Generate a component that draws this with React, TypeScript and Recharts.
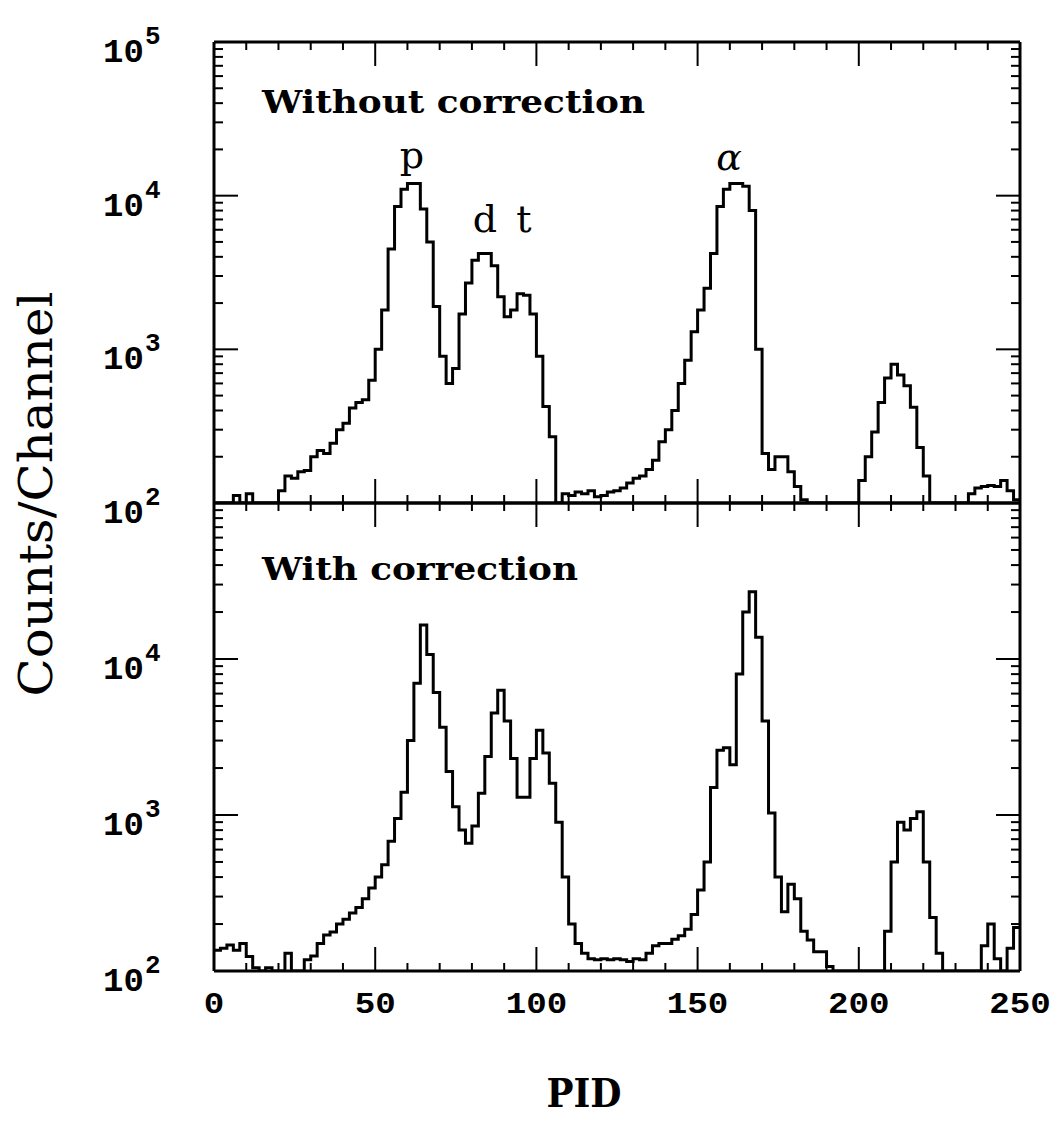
import React from 'react';
import { LineChart, Line, XAxis, YAxis } from 'recharts';

const W = 1058;
const H = 1124;
const BIN_WIDTH = 2;

const PID_TICKS = [0, 10, 20, 30, 40, 50, 60, 70, 80, 90, 100, 110, 120, 130, 140, 150, 160, 170, 180, 190, 200, 210, 220, 230, 240, 250];
const PID_LABELS = [0, 50, 100, 150, 200, 250];
const COUNT_TICKS = [
  100, 200, 300, 400, 500, 600, 700, 800, 900,
  1000, 2000, 3000, 4000, 5000, 6000, 7000, 8000, 9000,
  10000, 20000, 30000, 40000, 50000, 60000, 70000, 80000, 90000,
  100000,
];
const DECADES = [100, 1000, 10000, 100000];
const TOP_LABELS = [100, 1000, 10000, 100000];
const BOTTOM_LABELS = [100, 1000, 10000];

// counts per 2-channel bin, bins start at 0, 2, 4 ... 248
const WITHOUT_CORRECTION = [
  100, 100, 100, 112, 100, 115, 100, 100, 100, 100,
  120, 150, 145, 160, 163, 200, 220, 210, 245, 300,
  330, 415, 450, 470, 630, 1000, 1800, 4500, 8500, 11000,
  12000, 12000, 8200, 5000, 1900, 900, 600, 750, 1700, 2700,
  3800, 4200, 4200, 3500, 2200, 1630, 1800, 2300, 2250, 1700,
  900, 425, 270, 100, 115, 112, 118, 115, 120, 110,
  112, 118, 120, 125, 135, 145, 150, 165, 190, 250,
  300, 400, 600, 850, 1300, 1800, 2500, 4200, 8500, 11000,
  12000, 12000, 11500, 8000, 1000, 210, 165, 200, 200, 160,
  128, 105, 100, 100, 100, 100, 100, 100, 100, 100,
  140, 200, 290, 450, 650, 800, 680, 580, 420, 230,
  150, 100, 100, 100, 100, 100, 100, 115, 125, 128,
  130, 128, 140, 120, 105,
];

const WITH_CORRECTION = [
  136, 140, 147, 136, 150, 124, 105, 100, 105, 100,
  100, 130, 100, 100, 118, 125, 150, 170, 178, 200,
  215, 235, 255, 290, 340, 400, 480, 680, 950, 1400,
  3000, 7000, 16500, 10700, 6100, 3650, 1900, 1130, 800, 660,
  850, 1380, 2370, 4500, 6300, 4000, 2300, 1300, 1300, 2300,
  3500, 2500, 1600, 900, 400, 200, 150, 130, 120, 118,
  120, 118, 120, 118, 115, 120, 118, 130, 145, 150,
  150, 160, 168, 185, 230, 330, 500, 1500, 2600, 2700,
  2100, 8000, 20000, 27000, 13800, 4000, 1030, 400, 240, 360,
  290, 180, 158, 133, 133, 107, 100, 100, 100, 100,
  100, 100, 100, 100, 180, 500, 900, 800, 950, 1050,
  500, 220, 130, 100, 100, 100, 100, 100, 100, 145,
  200, 120, 100, 140, 190,
];

const toSteps = (counts: number[]) => {
  const rows = counts.map((c, i) => ({ pid: i * BIN_WIDTH, counts: c }));
  rows.push({ pid: counts.length * BIN_WIDTH, counts: counts[counts.length - 1] });
  return rows;
};

const INK = '#000';
const TICK_FONT = '"Liberation Mono", monospace';
const LABEL_FONT = '"DejaVu Serif", serif';

const isDecade = (v: number) => DECADES.includes(v);

const leftTick = (labelled: number[]) => (props: any) => {
  const { x, y, payload } = props;
  const v = payload.value;
  const major = isDecade(v);
  return (
    <g>
      <line x1={x} x2={x + (major ? 24 : 9)} y1={y} y2={y} stroke={INK} strokeWidth={2} />
      {major && labelled.includes(v) && (
        <text x={x - 111} y={y + 20} fontFamily={TICK_FONT} fontWeight="bold" fontSize={34} fill={INK}>
          10
          <tspan x={x - 69} y={y + 2} fontSize={26}>
            {DECADES.indexOf(v) + 2}
          </tspan>
        </text>
      )}
    </g>
  );
};

const rightTick = (props: any) => {
  const { x, y, payload } = props;
  const len = isDecade(payload.value) ? 24 : 9;
  return <line x1={x} x2={x - len} y1={y} y2={y} stroke={INK} strokeWidth={2} />;
};

const bottomTick = (labelled: boolean) => (props: any) => {
  const { x, y, payload } = props;
  const v = payload.value;
  const major = v % 50 === 0;
  const txt = String(v);
  return (
    <g>
      <line x1={x} x2={x} y1={y} y2={y - (major ? 24 : 8)} stroke={INK} strokeWidth={2} />
      {labelled && PID_LABELS.includes(v) && (
        <text
          x={x}
          y={y + 42}
          textAnchor="middle"
          fontFamily={TICK_FONT}
          fontWeight="bold"
          fontSize={30}
          fill={INK}
          textLength={20.5 * txt.length}
          lengthAdjust="spacingAndGlyphs"
        >
          {txt}
        </text>
      )}
    </g>
  );
};

const topTick = (props: any) => {
  const { x, y, payload } = props;
  const len = payload.value % 50 === 0 ? 24 : 8;
  return <line x1={x} x2={x} y1={y} y2={y + len} stroke={INK} strokeWidth={2} />;
};

const axisLine = { stroke: INK, strokeWidth: 3 };

interface PanelProps {
  counts: number[];
  margin: { top: number; right: number; bottom: number; left: number };
  bottomHeight: number;
  yLabels: number[];
  xLabels: boolean;
}

const Panel: React.FC<PanelProps> = ({ counts, margin, bottomHeight, yLabels, xLabels }) => (
  <div style={{ position: 'absolute', left: 0, top: 0 }}>
    <LineChart width={W} height={H} data={toSteps(counts)} margin={margin}>
      <XAxis
        xAxisId="b"
        dataKey="pid"
        type="number"
        domain={[0, 250]}
        allowDataOverflow
        ticks={PID_TICKS}
        interval={0}
        height={bottomHeight}
        tickSize={0}
        tickMargin={0}
        tickLine={false}
        axisLine={axisLine}
        tick={bottomTick(xLabels)}
      />
      <XAxis
        xAxisId="t"
        orientation="top"
        dataKey="pid"
        type="number"
        domain={[0, 250]}
        allowDataOverflow
        ticks={PID_TICKS}
        interval={0}
        height={2}
        tickSize={0}
        tickMargin={0}
        tickLine={false}
        axisLine={axisLine}
        tick={topTick}
      />
      <YAxis
        yAxisId="l"
        type="number"
        scale="log"
        domain={[100, 100000]}
        allowDataOverflow
        ticks={COUNT_TICKS}
        interval={0}
        width={60}
        tickSize={0}
        tickMargin={0}
        tickLine={false}
        axisLine={axisLine}
        tick={leftTick(yLabels)}
      />
      <YAxis
        yAxisId="r"
        orientation="right"
        type="number"
        scale="log"
        domain={[100, 100000]}
        allowDataOverflow
        ticks={COUNT_TICKS}
        interval={0}
        width={10}
        tickSize={0}
        tickMargin={0}
        tickLine={false}
        axisLine={axisLine}
        tick={rightTick}
      />
      <Line
        xAxisId="b"
        yAxisId="l"
        type="stepAfter"
        dataKey="counts"
        stroke={INK}
        strokeWidth={3}
        dot={false}
        isAnimationActive={false}
      />
    </LineChart>
  </div>
);

export default function App() {
  return (
    <div style={{ position: 'absolute', left: 0, top: 0, width: W, height: H, background: '#fff' }}>
      <Panel
        counts={WITHOUT_CORRECTION}
        margin={{ top: 40, right: 28, bottom: 619, left: 154 }}
        bottomHeight={2}
        yLabels={TOP_LABELS}
        xLabels={false}
      />
      <Panel
        counts={WITH_CORRECTION}
        margin={{ top: 501, right: 28, bottom: 93, left: 154 }}
        bottomHeight={60}
        yLabels={BOTTOM_LABELS}
        xLabels
      />
      <svg width={W} height={H} style={{ position: 'absolute', left: 0, top: 0, pointerEvents: 'none' }}>
        <g fontFamily={LABEL_FONT} fontWeight="bold" fill={INK}>
          <text x={262} y={113} fontSize={31} textLength={383} lengthAdjust="spacingAndGlyphs">Without correction</text>
          <text x={262} y={580} fontSize={31} textLength={316} lengthAdjust="spacingAndGlyphs">With correction</text>
        </g>
        <g fontFamily={LABEL_FONT} fill={INK} fontSize={38} textAnchor="middle">
          <text x={412} y={168}>p</text>
          <text x={485} y={232}>d</text>
          <text x={524} y={232}>t</text>
          <text x={729} y={170} fontStyle="italic">α</text>
        </g>
        <text
          x={584}
          y={1107}
          fontSize={40}
          textAnchor="middle"
          fontFamily={LABEL_FONT}
          fontWeight="bold"
          fill={INK}
          textLength={75}
          lengthAdjust="spacingAndGlyphs"
        >
          PID
        </text>
        <text
          transform="translate(52, 494) rotate(-90)"
          fontSize={46}
          textAnchor="middle"
          fontFamily={LABEL_FONT}
          fill={INK}
          textLength={405}
          lengthAdjust="spacingAndGlyphs"
        >
          Counts/Channel
        </text>
      </svg>
    </div>
  );
}
